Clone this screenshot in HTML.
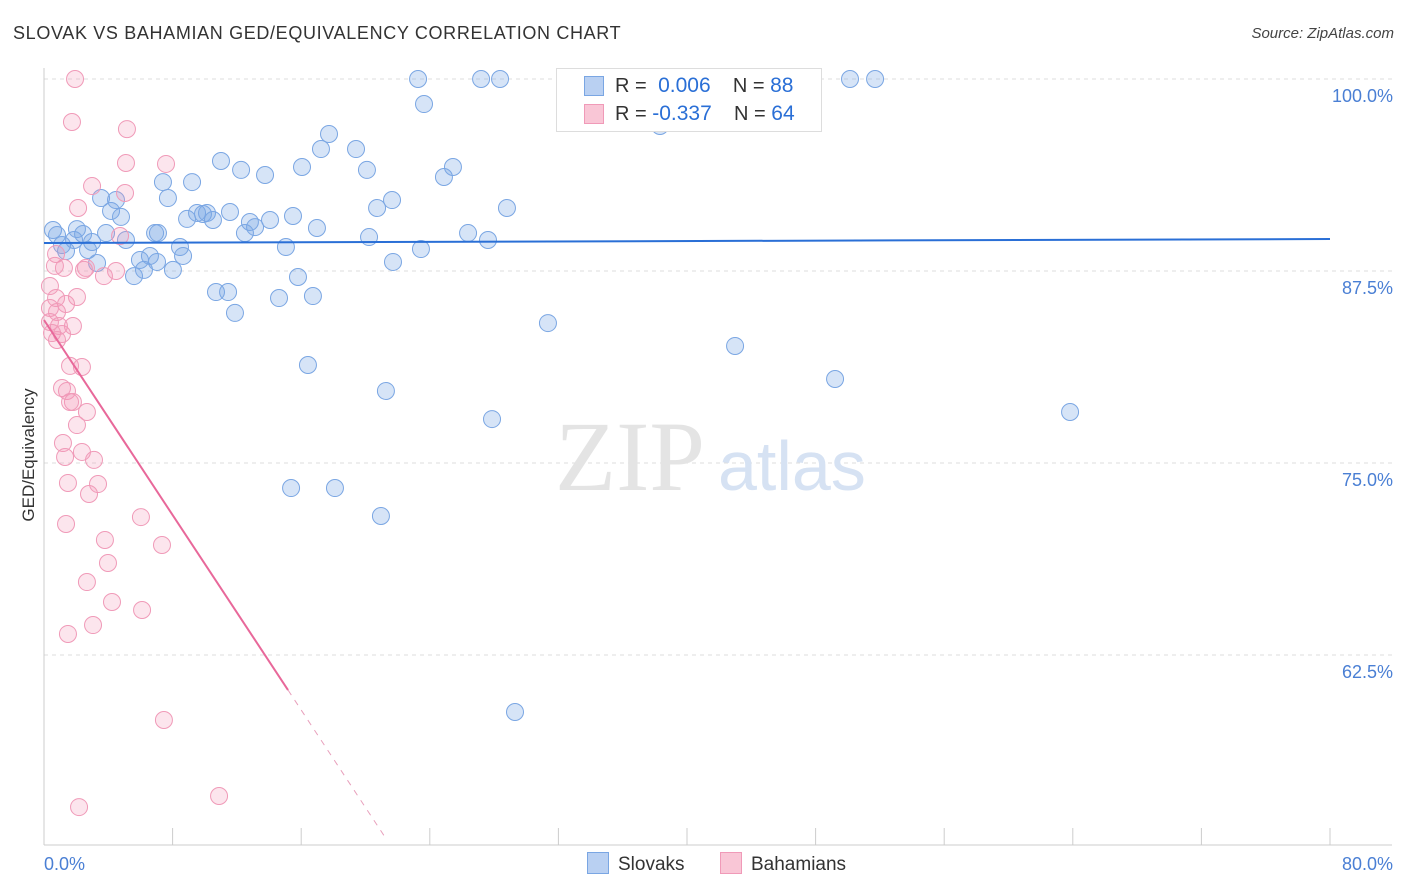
<!DOCTYPE html>
<html><head><meta charset="utf-8">
<style>
body{margin:0;background:#fff;font-family:"Liberation Sans",sans-serif;}
#wrap{position:relative;width:1406px;height:892px;overflow:hidden;}
.t{position:absolute;white-space:nowrap;}
</style></head>
<body>
<div id="wrap">
<div class="t" style="left:13px;top:23px;font-size:18px;color:#333;letter-spacing:0.65px">SLOVAK VS BAHAMIAN GED/EQUIVALENCY CORRELATION CHART</div>
<div class="t" style="right:12px;top:25px;font-size:15px;color:#444;font-style:italic">Source: ZipAtlas.com</div>
<svg id="svg" width="1406" height="892" style="position:absolute;left:0;top:0"></svg>
</div>
<script>
const xTickLabels=["0.0%","80.0%"];
const yTicks=[100,87.5,75,62.5];
const yTickLabels=["100.0%","87.5%","75.0%","62.5%"];
const slovakX=[0.56,0.81,1.37,1.12,1.87,2.05,2.43,2.74,2.99,3.30,3.55,3.86,4.17,4.48,4.79,5.10,5.60,5.97,6.22,6.91,7.09,7.03,6.59,7.40,7.71,8.02,8.46,8.65,8.90,9.21,9.52,9.89,10.14,10.51,10.70,11.01,11.45,11.57,11.88,12.26,12.50,12.81,13.13,13.75,14.06,14.62,15.05,15.37,15.49,15.80,16.05,16.42,16.73,16.98,17.23,17.73,18.10,19.41,20.09,20.22,20.72,20.96,21.27,21.71,21.65,23.27,23.45,23.64,24.88,25.44,26.38,27.19,27.62,27.87,28.37,28.80,29.30,31.35,38.01,38.32,42.99,49.21,50.14,51.70,63.83];
const slovakY=[90.17,89.84,88.8,89.19,89.52,90.23,89.91,88.87,89.39,88.02,92.25,89.97,91.41,92.12,91.02,89.52,87.17,88.22,87.57,89.97,89.97,88.09,88.48,93.29,92.25,87.57,89.06,88.48,90.89,93.29,91.28,91.21,91.28,90.82,86.13,94.66,86.13,91.34,84.77,94.08,89.97,90.69,90.36,93.75,90.82,85.74,89.06,73.37,91.08,87.11,94.27,81.38,85.87,90.30,95.44,96.42,73.37,95.44,94.08,89.71,91.60,71.55,79.69,88.09,92.12,100,88.93,98.37,93.62,94.27,89.97,100,89.52,77.86,100,91.60,58.79,84.11,100,96.94,82.62,80.47,100,100,78.32];
const bahamianX=[1.93,1.74,5.16,5.10,7.59,2.99,5.04,2.12,4.73,0.75,1.24,0.68,2.49,3.73,4.48,2.61,0.37,0.75,2.05,1.37,0.37,0.81,0.37,1.80,0.93,0.50,1.12,0.81,1.62,2.36,1.12,1.43,1.80,1.62,2.67,2.05,1.18,2.36,1.31,3.11,1.49,3.36,2.80,1.37,6.03,3.79,7.34,3.98,2.67,4.23,6.10,3.05,1.49,7.46,2.18,10.89];
const bahamianY=[100,97.20,96.74,94.53,94.47,93.03,92.58,91.60,89.78,88.61,87.70,87.83,87.57,87.17,87.50,87.70,86.52,85.74,85.81,85.35,85.09,84.83,84.18,83.92,83.92,83.46,83.40,83.01,81.32,81.25,79.88,79.69,78.97,78.97,78.32,77.47,76.30,75.72,75.39,75.20,73.70,73.63,72.98,71.03,71.48,69.99,69.66,68.49,67.25,65.95,65.43,64.45,63.87,58.27,52.60,53.32];
const blueTrend=[89.32,89.58];
const pinkTrend=[84.31,-1.587];

const X0=44,X1=1330,Y100=79,PPU=15.36;
const xs=v=>X0+(v/80)*(X1-X0);
const ys=v=>Y100+(100-v)*PPU;
const svg=document.getElementById('svg');
const NS='http://www.w3.org/2000/svg';
function mk(tag,attrs,name){const e=document.createElementNS(NS,tag);for(const k in attrs)e.setAttribute(k,attrs[k]);


svg.appendChild(e);return e;}
yTicks.forEach((v,i)=>{
 mk('line',{x1:X0,x2:1392,y1:ys(v),y2:ys(v),stroke:'#ddd','stroke-dasharray':'4,4'},'y-gridline');
 const t=mk('text',{x:1393,y:ys(v)+23,'text-anchor':'end','font-size':18,fill:'#4a7fd4','font-family':'Liberation Sans'},'y-tick-label');t.textContent=yTickLabels[i];
});
mk('line',{x1:X0,x2:X0,y1:68,y2:845,stroke:'#ccc'},'y-axis');
mk('line',{x1:X0,x2:1392,y1:845,y2:845,stroke:'#ccc'},'x-axis');
for(let i=0;i<=10;i++){mk('line',{x1:xs(i*8),x2:xs(i*8),y1:828,y2:845,stroke:'#ccc'},'x-tick');}
let t=mk('text',{x:44,y:870,'font-size':18,fill:'#4a7fd4','font-family':'Liberation Sans'},'x-tick-label');t.textContent=xTickLabels[0];
t=mk('text',{x:1393,y:870,'text-anchor':'end','font-size':18,fill:'#4a7fd4','font-family':'Liberation Sans'},'x-tick-label');t.textContent=xTickLabels[1];
t=mk('text',{x:34,y:455,'text-anchor':'middle','font-size':17,fill:'#333','font-family':'Liberation Sans',transform:'rotate(-90 34 455)'},'y-axis-title');t.textContent='GED/Equivalency';
t=mk('text',{x:555,y:490,'font-size':100,fill:'#e4e4e4','font-family':'Liberation Serif'},'watermark-zip');t.textContent='ZIP';
t=mk('text',{x:718,y:490,'font-size':70,fill:'#d6e2f3','font-family':'Liberation Sans'},'watermark-atlas');t.textContent='atlas';
slovakX.forEach((x,i)=>{mk('circle',{cx:xs(x),cy:ys(slovakY[i]),r:8.5,fill:'rgba(120,165,230,0.3)',stroke:'#7aa6e3','stroke-width':1},'slovak-point');});
bahamianX.forEach((x,i)=>{mk('circle',{cx:xs(x),cy:ys(bahamianY[i]),r:8.5,fill:'rgba(245,150,185,0.25)',stroke:'#f09ab8','stroke-width':1},'bahamian-point');});
mk('line',{x1:xs(0),y1:ys(blueTrend[0]),x2:xs(80),y2:ys(blueTrend[1]),stroke:'#2a6fd6','stroke-width':2},'slovak-trendline');
const pe=15.18,pd=21.27;
mk('line',{x1:xs(0),y1:ys(pinkTrend[0]),x2:xs(pe),y2:ys(pinkTrend[0]+pinkTrend[1]*pe),stroke:'#e8689a','stroke-width':2},'bahamian-trendline');
mk('line',{x1:xs(pe),y1:ys(pinkTrend[0]+pinkTrend[1]*pe),x2:xs(pd),y2:ys(pinkTrend[0]+pinkTrend[1]*pd),stroke:'#e8a0bc','stroke-width':1,'stroke-dasharray':'6,6'},'bahamian-trendline-dashed');
</script>
<div class="t" style="left:556px;top:68px;width:264px;height:62px;border:1px solid #ddd;background:#fff;font-size:20px;color:#333">
 <div style="position:absolute;left:27px;top:7px;width:18px;height:18px;background:#b9d0f2;border:1px solid #7aa6e3"></div>
 <div style="position:absolute;left:58px;top:5px">R = <span style="color:#2a6fd6;font-size:21px">&nbsp;0.006</span>&nbsp;&nbsp;&nbsp;&nbsp;N = <span style="color:#2a6fd6;font-size:21px">88</span></div>
 <div style="position:absolute;left:27px;top:35px;width:18px;height:18px;background:#f9c6d6;border:1px solid #f09ab8"></div>
 <div style="position:absolute;left:58px;top:33px">R = <span style="color:#2a6fd6;font-size:21px">-0.337</span>&nbsp;&nbsp;&nbsp;&nbsp;N = <span style="color:#2a6fd6;font-size:21px">64</span></div>
</div>
<div class="t" style="left:587px;top:852px;font-size:19px;color:#333">
 <span style="display:inline-block;width:20px;height:20px;background:#b9d0f2;border:1px solid #7aa6e3;vertical-align:-4px;margin-right:9px"></span>Slovaks</div>
<div class="t" style="left:720px;top:852px;font-size:19px;color:#333">
 <span style="display:inline-block;width:20px;height:20px;background:#f9c6d6;border:1px solid #f09ab8;vertical-align:-4px;margin-right:9px"></span>Bahamians</div>
</body></html>
